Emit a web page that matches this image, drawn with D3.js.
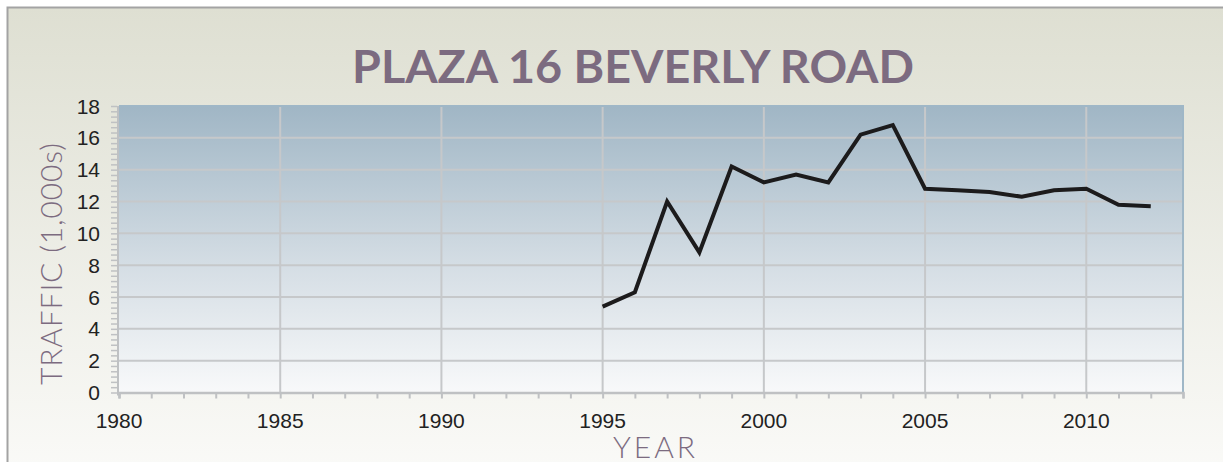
<!DOCTYPE html>
<html>
<head>
<meta charset="utf-8">
<script src="https://cdn.jsdelivr.net/npm/d3@7"></script>
<style>
  body { margin: 0; background: #fff; }
  svg { display: block; }
</style>
</head>
<body>
<div id="chart"></div>
<script>
// traffic counts, in thousands
var years = [1995, 1996, 1997, 1998, 1999, 2000, 2001, 2002, 2003, 2004,
             2005, 2006, 2007, 2008, 2009, 2010, 2011, 2012];
var traffic = [5.4, 6.3, 12.0, 8.8, 14.2, 13.2, 13.7, 13.2, 16.2, 16.8,
               12.8, 12.7, 12.6, 12.3, 12.7, 12.8, 11.8, 11.7];
var xTicks = [1980, 1985, 1990, 1995, 2000, 2005, 2010];
var yTicks = [0, 2, 4, 6, 8, 10, 12, 14, 16, 18];

var W = 1223, H = 462;
var margin = {top: 106, right: 40, bottom: 70, left: 119};
var width = 1183 - margin.left,
    height = 392.5 - margin.top;

var svg = d3.select("#chart").append("svg")
  .attr("width", W)
  .attr("height", H);

var defs = svg.append("defs");
var pg = defs.append("linearGradient").attr("id", "panelGrad")
  .attr("x1", 0).attr("y1", 0).attr("x2", 0).attr("y2", 1);
pg.append("stop").attr("offset", "0%").attr("stop-color", "#dedfd2");
pg.append("stop").attr("offset", "100%").attr("stop-color", "#fbfbf9");

var ag = defs.append("linearGradient").attr("id", "plotGrad")
  .attr("x1", 0).attr("y1", 0).attr("x2", 0).attr("y2", 1);
ag.append("stop").attr("offset", "0%").attr("stop-color", "#a0b6c5");
ag.append("stop").attr("offset", "55%").attr("stop-color", "#d4dde4");
ag.append("stop").attr("offset", "100%").attr("stop-color", "#f8f9fa");

// outer panel
svg.append("rect")
  .attr("x", 7.5).attr("y", 7.5)
  .attr("width", W + 20).attr("height", H + 20)
  .attr("fill", "url(#panelGrad)")
  .attr("stroke", "#a3a3a3")
  .attr("stroke-width", 2);

var g = svg.append("g")
  .attr("transform", "translate(" + margin.left + "," + margin.top + ")");

var x = d3.scaleLinear().domain([1980, 2013]).range([0, width]);
var y = d3.scaleLinear().domain([0, 18]).range([height, 0]);

g.append("rect")
  .attr("width", width).attr("height", height)
  .attr("fill", "url(#plotGrad)");

// grid
g.selectAll(".hgrid")
  .data(yTicks.filter(function(d){ return d > 0 && d < 18; }))
  .enter().append("line")
  .attr("x1", 0).attr("x2", width)
  .attr("y1", function(d){ return y(d); })
  .attr("y2", function(d){ return y(d); })
  .attr("stroke", "#c6c8ca").attr("stroke-width", 2);

g.selectAll(".vgrid")
  .data(xTicks.filter(function(d){ return d > 1980; }))
  .enter().append("line")
  .attr("x1", function(d){ return x(d); })
  .attr("x2", function(d){ return x(d); })
  .attr("y1", 0).attr("y2", height)
  .attr("stroke", "#c6c8ca").attr("stroke-width", 2);

// top and right border of plot
g.append("path")
  .attr("d", "M0,0H" + width + "V" + height)
  .attr("fill", "none")
  .attr("stroke", "#9fb7c7").attr("stroke-width", 2);

// axes
var tickColor = "#bfc1c3";
var xAxis = g.append("g")
  .attr("transform", "translate(0," + height + ")")
  .call(d3.axisBottom(x).tickValues(d3.range(1980, 2014)).tickSize(6).tickFormat(""));
xAxis.selectAll("line").attr("stroke", tickColor).attr("stroke-width", 2);
xAxis.select(".domain").attr("stroke", tickColor).attr("stroke-width", 2.5);

var yAxis = g.append("g")
  .attr("transform", "translate(-2,0)")
  .call(d3.axisLeft(y).tickValues(d3.range(0, 18.01, 1 / 3)).tickSize(6).tickFormat(""));
yAxis.selectAll("line").attr("stroke", tickColor).attr("stroke-width", 1.5);
yAxis.select(".domain").remove();
g.append("line")
  .attr("x1", -1).attr("x2", -1).attr("y1", 0).attr("y2", height + 3)
  .attr("stroke", tickColor).attr("stroke-width", 2);

// tick labels
g.selectAll(".xlab")
  .data(xTicks).enter().append("text")
  .attr("x", function(d){ return x(d); })
  .attr("y", height + 35.5)
  .attr("text-anchor", "middle")
  .attr("font-family", "Liberation Sans, Arial, sans-serif")
  .attr("font-size", "21px")
  .attr("fill", "#222")
  .text(function(d){ return d; });

g.selectAll(".ylab")
  .data(yTicks).enter().append("text")
  .attr("x", -19)
  .attr("y", function(d){ return y(d); })
  .attr("dy", "0.36em")
  .attr("text-anchor", "end")
  .attr("font-family", "Liberation Sans, Arial, sans-serif")
  .attr("font-size", "21px")
  .attr("fill", "#222")
  .text(function(d){ return d; });

// the series
var line = d3.line()
  .x(function(d, i){ return x(years[i]); })
  .y(function(d){ return y(d); });

g.append("path")
  .datum(traffic)
  .attr("d", line)
  .attr("fill", "none")
  .attr("stroke", "#1c1b1c")
  .attr("stroke-width", 4)
  .attr("stroke-linejoin", "miter");

// titles
svg.append("text")
  .attr("x", 633).attr("y", 82.5)
  .attr("text-anchor", "middle")
  .attr("font-family", "Lato, sans-serif")
  .attr("font-weight", "bold")
  .attr("font-size", "46px")
  .attr("fill", "#7c6b80")
  .attr("textLength", 562)
  .attr("lengthAdjust", "spacingAndGlyphs")
  .text("PLAZA 16 BEVERLY ROAD");

svg.append("text")
  .attr("x", 654).attr("y", 457.5)
  .attr("text-anchor", "middle")
  .attr("font-family", "Lato, sans-serif")
  .attr("font-weight", 300)
  .attr("font-size", "30px")
  .attr("fill", "#7c6b80")
  .attr("textLength", 82)
  .attr("lengthAdjust", "spacing")
  .text("YEAR");

svg.append("text")
  .attr("transform", "translate(62,264) rotate(-90)")
  .attr("text-anchor", "middle")
  .attr("font-family", "Lato, sans-serif")
  .attr("font-weight", 300)
  .attr("font-size", "30px")
  .attr("fill", "#7c6b80")
  .attr("textLength", 242)
  .attr("lengthAdjust", "spacing")
  .text("TRAFFIC (1,000s)");
</script>
</body>
</html>
